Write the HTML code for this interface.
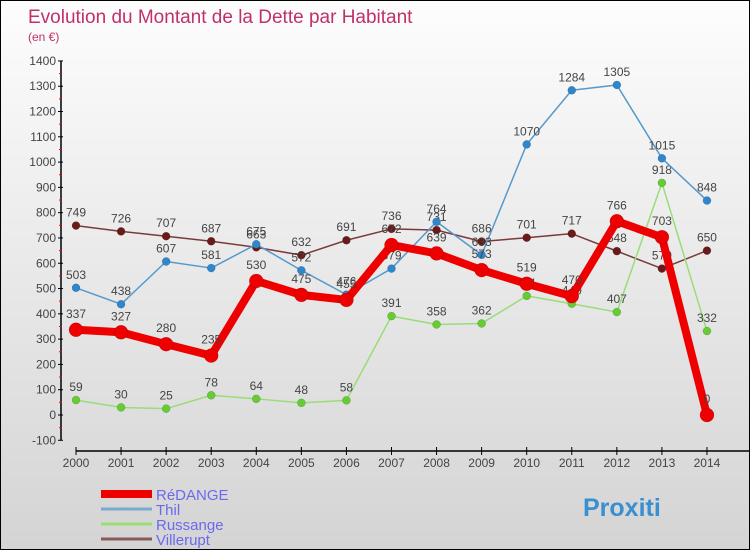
<!DOCTYPE html>
<html><head><meta charset="utf-8"><style>
body{margin:0;}
#wrap{position:relative;width:748px;height:548px;border:1px solid #000;background:linear-gradient(#fdfdfd,#d4d4d4);overflow:hidden;font-family:"Liberation Sans",sans-serif;}
svg{position:absolute;left:0;top:0}
</style></head><body>
<div id="wrap">
<svg id="chart" width="750" height="550"></svg>
</div>
<script>
const years=[2000,2001,2002,2003,2004,2005,2006,2007,2008,2009,2010,2011,2012,2013,2014];
const redange=[337,327,280,235,530,475,455,672,639,573,519,470,766,703,0];
const thil=[503,438,607,581,675,572,476,579,764,633,1070,1284,1305,1015,848];
const russange=[59,30,25,78,64,48,58,391,358,362,471,440,407,918,332];
const villerupt=[749,726,707,687,663,632,691,736,731,686,701,717,648,579,650];
const yTicks=[-100,0,100,200,300,400,500,600,700,800,900,1000,1100,1200,1300,1400];
const NS='http://www.w3.org/2000/svg';
const svg=document.getElementById('chart');
const X=i=>75+i*45.07;
const Y=v=>414-v*0.2529;
function el(t,a,p){const e=document.createElementNS(NS,t);for(const k in a)e.setAttribute(k,a[k]);(p||svg).appendChild(e);return e;}
let t=el('text',{x:27,y:22,fill:'#c0306a','font-size':19});t.textContent='Evolution du Montant de la Dette par Habitant';

t=el('text',{x:27,y:40,fill:'#c0306a','font-size':12});t.textContent='(en €)';

// y axis
let ax=el('line',{x1:60,y1:Y(1400),x2:60,y2:Y(-100),stroke:'#000','stroke-width':1.5});

yTicks.forEach((v,i)=>{el('line',{x1:57,x2:62,y1:Y(v),y2:Y(v),stroke:'#000'});
 if(i<yTicks.length-1)el('line',{x1:58,x2:61,y1:Y(v+50),y2:Y(v+50),stroke:'red'});
 const l=el('text',{x:55,y:Y(v)+4,'text-anchor':'end','font-size':12,fill:'#444'});l.textContent=v;
 });
ax=el('line',{x1:75,y1:450,x2:750,y2:450,stroke:'#000','stroke-width':1.5});

years.forEach((y,i)=>{el('line',{x1:X(i),x2:X(i),y1:446,y2:454,stroke:'#000'});
 const l=el('text',{x:X(i),y:466,'text-anchor':'middle','font-size':12,fill:'#444'});l.textContent=y;
 });
function series(data,color,dot,w,r,name){
 const g=el('g',{});
 el('polyline',{points:data.map((v,i)=>X(i)+','+Y(v)).join(' '),fill:'none',stroke:color,'stroke-width':w,'stroke-linejoin':'round'},g);
 data.forEach((v,i)=>{const c=el('circle',{cx:X(i),cy:Y(v),r:r,fill:dot,stroke:'rgba(0,0,0,0.25)','stroke-width':0.5},g);
  
  const l=el('text',{x:X(i),y:Y(v)-r-5,'text-anchor':'middle','font-size':12,fill:'#444'},g);l.textContent=v;
  });
}
series(villerupt,'#7a3a3a','#6b1a1a',1.5,4,'villerupt');
series(russange,'#99dd77','#66cc33',1.5,4,'russange');
series(thil,'#5599cc','#2f86cc',1.5,4,'thil');
series(redange,'#ee0000','#ee0000',8,7,'redange');
const leg=[['RéDANGE','#ee0000',8],['Thil','#7aaad0',3],['Russange','#99dd77',3],['Villerupt','#8a5a5a',3]];
leg.forEach((d,i)=>{const g=el('g',{});
 el('line',{x1:100,x2:151,y1:493+i*15,y2:493+i*15,stroke:d[1],'stroke-width':d[2]},g);
 const l=el('text',{x:155,y:499+i*15,'font-size':15,fill:'#6a6aee'},g);l.textContent=d[0];});
const lg=el('text',{x:582,y:515,'font-size':25,'font-weight':'bold',fill:'#3a8fd0'});lg.textContent='Proxiti';

</script>
</body></html>
